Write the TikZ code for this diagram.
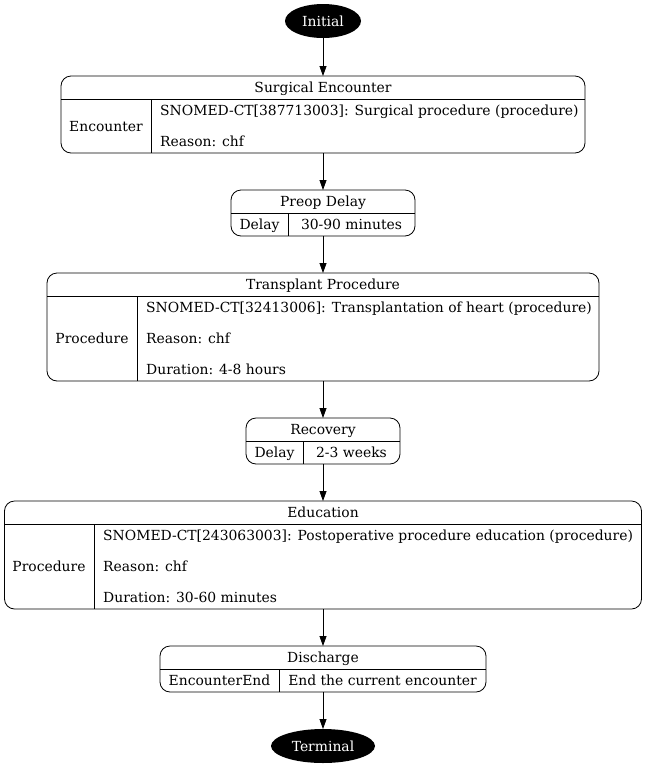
\documentclass[tikz,border=0pt]{standalone}
\usepackage{fontspec}
\setmainfont{DejaVu Serif}
\usetikzlibrary{arrows.meta,calc,positioning,shapes.geometric}
\tikzset{
  recbox/.style = {
    draw, rounded corners=10pt, inner sep=0pt, outer sep=0pt, line width=0.8pt
  },
  endpoint/.style = {
    ellipse, fill=black, text=white, inner sep=0pt, outer sep=0pt
  },
  arc/.style = {
    -{Triangle[length=10pt,width=7pt]},
    line width=0.8pt
  },
  sep/.style = {
    line width=0.8pt
  },
  txt/.style = {
    anchor=base, inner sep=0pt, yshift=-5pt
  },
  row/.style = {
    anchor=base west, inner sep=0pt, yshift=-5pt
  }
}

\begin{document}
\begin{tikzpicture}[x=1pt,y=-1pt,font=\fontsize{13.9}{16}\selectfont]
		\useasboundingbox (0,0) rectangle (646,769);
		% start and end
		\node[endpoint, minimum width=76pt, minimum height=34pt] (init) at (323,21) {};
		\node[txt, text=white] (initl) at (323,21) {Initial};
		\node[endpoint, minimum width=104pt, minimum height=34pt] (term) at (323,746) {};
		\node[txt, text=white] (terml) at (323,746) {Terminal};
%
		% Surgical Encounter
		\node[recbox, minimum width=524pt, minimum height=77pt] (surg) at (323,114.5) {};
		\draw[sep] (surg.west |- 0,99) -- (surg.east |- 0,99);
		\draw[sep] (151,99) -- (151,153);
		\node[txt] (surgh) at (323,87) {Surgical Encounter};
		\node[txt] (surgk) at (106,126) {Encounter};
		\node[row] at (160,110) {SNOMED-CT[387713003]: Surgical procedure (procedure)};
		\node[row] at (160,141) {Reason: chf};
%
		% Preop Delay
		\node[recbox, minimum width=184pt, minimum height=46pt] (preop) at (323,213) {};
		\draw[sep] (preop.west |- 0,213) -- (preop.east |- 0,213);
		\draw[sep] (288,213) -- (288,236);
		\node[txt] (preoph) at (323,201) {Preop Delay};
		\node[txt] (preopk) at (259.5,224) {Delay};
		\node[txt] (preopv) at (351.5,224) {30-90 minutes};
%
		% Transplant Procedure
		\node[recbox, minimum width=552pt, minimum height=108pt] (trans) at (323,327) {};
		\draw[sep] (trans.west |- 0,296) -- (trans.east |- 0,296);
		\draw[sep] (137,296) -- (137,381);
		\node[txt] (transh) at (323,284) {Transplant Procedure};
		\node[txt] (transk) at (92,338) {Procedure};
		\node[row] at (146,307) {SNOMED-CT[32413006]: Transplantation of heart (procedure)};
		\node[row] at (146,338) {Reason: chf};
		\node[row] at (146,369) {Duration: 4-8 hours};
%
		% Recovery
		\node[recbox, minimum width=154pt, minimum height=46pt] (recov) at (323,441) {};
		\draw[sep] (recov.west |- 0,441) -- (recov.east |- 0,441);
		\draw[sep] (303,441) -- (303,464);
		\node[txt] (recovh) at (323,429) {Recovery};
		\node[txt] (recovk) at (274.5,452) {Delay};
		\node[txt] (recovv) at (351.5,452) {2-3 weeks};
%
		% Education
		\node[recbox, minimum width=637pt, minimum height=108pt] (edu) at (323,555) {};
		\draw[sep] (edu.west |- 0,524) -- (edu.east |- 0,524);
		\draw[sep] (94,524) -- (94,609);
		\node[txt] (eduh) at (323,512) {Education};
		\node[txt] (eduk) at (49,566) {Procedure};
		\node[row] at (103,535) {SNOMED-CT[243063003]: Postoperative procedure education (procedure)};
		\node[row] at (103,566) {Reason: chf};
		\node[row] at (103,597) {Duration: 30-60 minutes};
%
		% Discharge
		\node[recbox, minimum width=326pt, minimum height=46pt] (disch) at (323,669) {};
		\draw[sep] (disch.west |- 0,669) -- (disch.east |- 0,669);
		\draw[sep] (279,669) -- (279,692);
		\node[txt] (dischh) at (323,657) {Discharge};
		\node[txt] (dischk) at (219.5,680) {EncounterEnd};
		\node[txt] (dischv) at (382.5,680) {End the current encounter};
%
		\path[arc] (init) edge (surg);
		\path[arc] (surg) edge (preop);
		\path[arc] (preop) edge (trans);
		\path[arc] (trans) edge (recov);
		\path[arc] (recov) edge (edu);
		\path[arc] (edu) edge (disch);
		\path[arc] (disch) edge (term);
	\end{tikzpicture}
\end{document}
